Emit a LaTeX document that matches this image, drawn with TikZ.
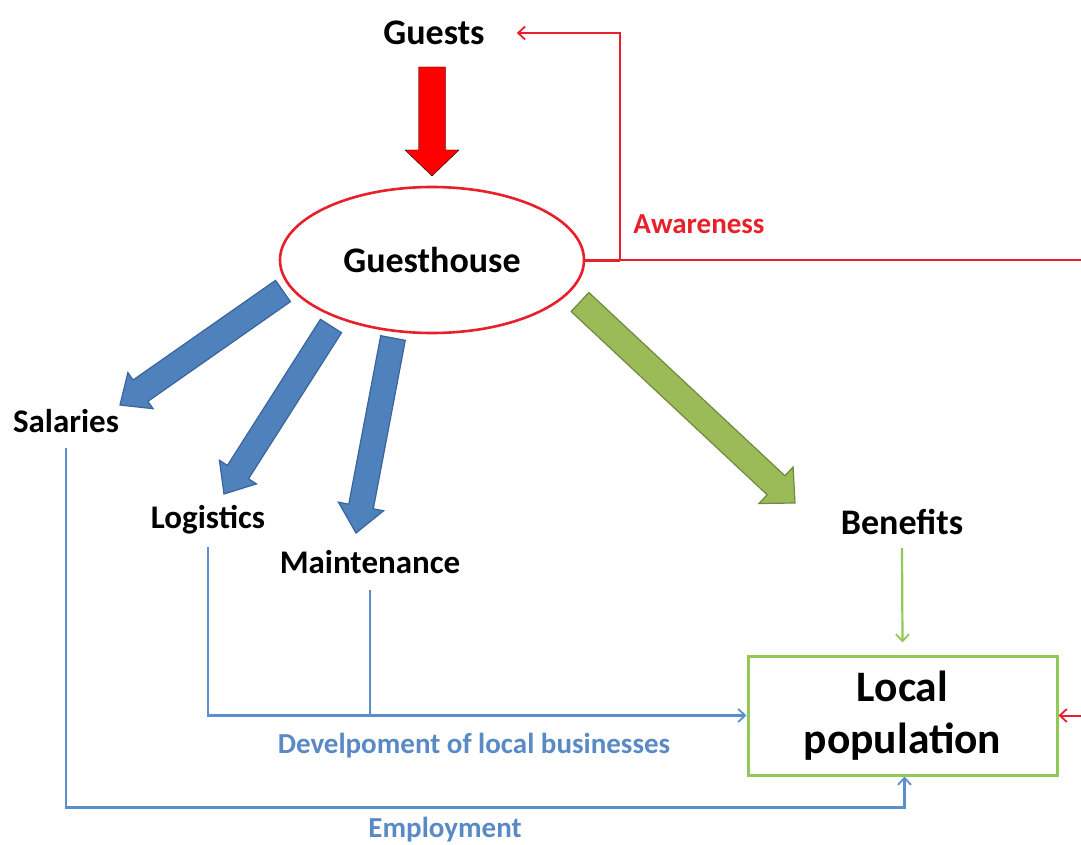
\documentclass[tikz,border=0pt]{standalone}
\usepackage{fontspec}
\setmainfont{Carlito}
\usetikzlibrary{calc,arrows.meta,shapes.geometric}
\definecolor{redA}{HTML}{E8202A}
\definecolor{redB}{HTML}{FF0000}
\definecolor{blueF}{HTML}{4F81BD}
\definecolor{blueD}{HTML}{3A659B}
\definecolor{blueL}{HTML}{5B8ECF}
\definecolor{blueT}{HTML}{5A8AC6}
\definecolor{greenF}{HTML}{9BBB59}
\definecolor{greenD}{HTML}{71893F}
\definecolor{greenL}{HTML}{92C855}
\newcommand\blockarr[6]{%
  \coordinate (bs) at #1; \coordinate (be) at #2;
  \coordinate (bh) at ($(be)!#5!(bs)$);
  \draw[#6] ($(bs)!#3!90:(be)$) -- ($(bh)!#3!90:(be)$) -- ($(bh)!#4!90:(be)$) -- (be)
    -- ($(bh)!#4!-90:(be)$) -- ($(bh)!#3!-90:(be)$) -- ($(bs)!#3!-90:(be)$) -- cycle;}
\begin{document}
\begin{tikzpicture}[x=1pt,y=-1pt,
  lbl/.style={font=\fontsize{33}{36}\selectfont\bfseries, inner sep=0pt, text=black},
  big/.style={font=\fontsize{36}{40}\selectfont\bfseries, inner sep=0pt, text=black},
  small/.style={font=\fontsize{29}{32}\selectfont\bfseries, inner sep=0pt},
  tip/.style={-{Straight Barb[length=7pt,width=13pt,line width=1.8pt]}},
  redline/.style={draw=redA, line width=2pt},
  blueline/.style={draw=blueL, line width=2.2pt},
  bluearr/.style={fill=blueF, draw=blueD, line width=1.2pt, line join=miter},
  greenarr/.style={fill=greenF, draw=greenD, line width=1.2pt, line join=miter}]
\useasboundingbox (0,0) rectangle (1081,845);
\fill[white] (0,0) rectangle (1081,845);
% nodes
\node[big] (guests) at (434,33) {Guests};
\node[ellipse, draw=redA, line width=2.6pt, minimum width=304pt, minimum height=146pt, big] (gh) at (432,260) {Guesthouse};
\node[lbl] (sal) at (66,421) {Salaries};
\node[lbl] (log) at (208,520) {Logistics};
\node[lbl] (mnt) at (370,562) {Maintenance};
\node[big] (ben) at (902,522) {Benefits};
\node[draw=greenL, line width=3pt, minimum width=309pt, minimum height=119pt, align=center,
  font=\fontsize{43.5}{52}\selectfont\bfseries, inner sep=0pt] (lp) at (902.5,715.5) {Local\\population};
\node[small, text=redA] (aw) at (699,224) {Awareness};
\node[small, text=blueT] (dev) at (474,746) {Develpoment of local businesses};
\node[small, text=blueT] (emp) at (445,830) {Employment};
% block arrows
\blockarr{(432,67)}{(432,176)}{13.5pt}{27pt}{26pt}{fill=redB}
\blockarr{(283,291)}{(120,405)}{13pt}{22pt}{25pt}{bluearr}
\blockarr{(331,326)}{(224,494)}{12.5pt}{22pt}{26pt}{bluearr}
\blockarr{(393,338)}{(356,533)}{12.5pt}{23pt}{27pt}{bluearr}
\blockarr{(580,302)}{(795,503)}{13pt}{25pt}{26pt}{greenarr}
% red awareness lines
\draw[draw=redA, line width=3pt] (gh.east) -- ++(35,0) coordinate (j);
\draw[redline, tip] (j) |- ([xshift=32pt]guests.east);
\draw[redline, tip] (j) -- (1083,260) |- (lp.east);
% blue lines
\coordinate (st) at ([yshift=-27pt]sal.center);
\coordinate (lt) at ([yshift=-27pt]log.center);
\coordinate (mt) at ([yshift=-28pt]mnt.center);
\draw[blueline, tip] (st) |- ($(lp.south)+(2,31)$) -- ([xshift=2pt]lp.south);
\draw[blueline, tip] (lt) |- (lp.west);
\draw[blueline] (mt) -- (mt |- lp.west);
% green benefit
\draw[draw=greenL, line width=2.2pt, tip] ([yshift=-26pt]ben.center) -- ([yshift=12pt]lp.north);
\end{tikzpicture}
\end{document}
